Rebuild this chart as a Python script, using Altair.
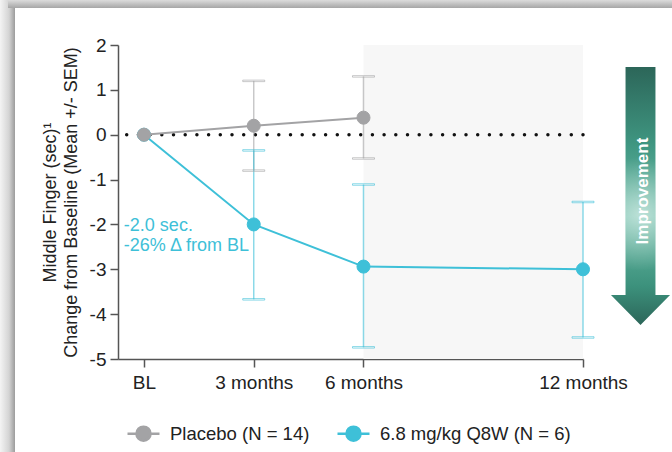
import altair as alt
import pandas as pd

FONT = "Liberation Sans"
PLACEBO = "Placebo (N = 14)"
DRUG = "6.8 mg/kg Q8W (N = 6)"
GREY = "#a3a3a5"
CYAN = "#3ec0d8"

# Mean change from baseline (sec) by visit month
placebo_months = [0, 3, 6]
placebo_mean = [0.0, 0.2, 0.38]
placebo_err_months = [3, 6]
placebo_err_hi = [1.2, 1.3]
placebo_err_lo = [-0.8, -0.53]

drug_months = [0, 3, 6, 12]
drug_mean = [0.0, -2.0, -2.94, -3.0]
drug_err_months = [3, 6, 12]
drug_err_hi = [-0.35, -1.11, -1.5]
drug_err_lo = [-3.67, -4.74, -4.52]

tick_months = [0, 3, 6, 12]
tick_labels = ["BL", "3 months", "6 months", "12 months"]
y_ticks = [-5, -4, -3, -2, -1, 0, 1, 2]

note_lines = ["-2.0 sec.", "-26% \u0394 from BL"]
note_y = [-2.04, -2.48]
note_x = -0.55

shade_from = [6]
shade_to = [12]

W, H = 465, 314
PAD = {"left": 118, "top": 45, "right": 89, "bottom": 93}

# ---- tables ----
means = pd.concat([
    pd.DataFrame({"month": drug_months, "value": drug_mean, "series": DRUG}),
    pd.DataFrame({"month": placebo_months, "value": placebo_mean, "series": PLACEBO}),
], ignore_index=True)

errs = pd.concat([
    pd.DataFrame({"month": placebo_err_months, "hi": placebo_err_hi,
                  "lo": placebo_err_lo, "series": PLACEBO}),
    pd.DataFrame({"month": drug_err_months, "hi": drug_err_hi,
                  "lo": drug_err_lo, "series": DRUG}),
], ignore_index=True)

caps = pd.concat([
    errs[["month", "series"]].assign(value=errs["hi"]),
    errs[["month", "series"]].assign(value=errs["lo"]),
], ignore_index=True)

notes = pd.DataFrame({"month": [note_x] * len(note_lines), "value": note_y,
                      "text": note_lines})
shade = pd.DataFrame({"x0": shade_from, "x1": shade_to})
one = pd.DataFrame({"k": [0]})

# ---- scales / axes ----
label_expr = " : ".join(
    f"datum.value == {m} ? '{t}'" for m, t in zip(tick_months, tick_labels)
) + " : ''"

x_scale = alt.Scale(domain=[-0.71, 12], nice=False, zero=False)
y_scale = alt.Scale(domain=[-5, 2], nice=False, zero=False)

x_enc = alt.X("month:Q", scale=x_scale, title=None,
              axis=alt.Axis(values=tick_months, labelExpr=label_expr,
                            labelPadding=6, labelFlush=False))
y_enc = alt.Y("value:Q", scale=y_scale,
              title=["Middle Finger (sec)\u00b9",
                     "Change from Baseline (Mean +/-  SEM)"],
              axis=alt.Axis(values=y_ticks, labelExpr="'' + datum.value",
                            labelPadding=4, titlePadding=9, labelFlush=False))

legend_shape = ("M-1,0L1,0M-0.44,0A0.44,0.44,0,1,0,0.44,0"
                "A0.44,0.44,0,1,0,-0.44,0Z")
series_scale = alt.Scale(domain=[PLACEBO, DRUG], range=[GREY, CYAN])
series_legend = alt.Legend(
    title=None, orient="none", legendX=8, legendY=371,
    direction="horizontal", symbolType=legend_shape, symbolSize=1024,
    symbolStrokeWidth=2.5, symbolOpacity=1, labelFont=FONT, labelFontSize=18.5,
    labelColor="#222", labelOffset=9, columnPadding=22, padding=0,
    labelLimit=400,
)
stroke_enc = alt.Stroke("series:N", scale=series_scale, legend=series_legend)
fill_enc = alt.Fill("series:N", scale=series_scale, legend=series_legend)

# ---- decorative frame shadow ----
frame_left = alt.Chart(one).mark_rect(
    fill=alt.Gradient(gradient="linear", x1=0, x2=1, y1=0, y2=0,
                      stops=[alt.GradientStop(offset=0, color="#f4f4f4"),
                             alt.GradientStop(offset=0.6, color="#d4d4d4"),
                             alt.GradientStop(offset=1, color="#9c9c9c")])
).encode(x=alt.value(-118), x2=alt.value(-103),
         y=alt.value(-45), y2=alt.value(H + 93))

frame_top = alt.Chart(one).mark_rect(
    fill=alt.Gradient(gradient="linear", x1=0, x2=0, y1=0, y2=1,
                      stops=[alt.GradientStop(offset=0, color="#dcdcdc"),
                             alt.GradientStop(offset=1, color="#a6a6a6")])
).encode(x=alt.value(-110), x2=alt.value(W + 89),
         y=alt.value(-45), y2=alt.value(-37))

# ---- plot content ----
shade_layer = alt.Chart(shade).mark_rect(color="#f7f7f7").encode(
    x=alt.X("x0:Q", scale=x_scale), x2="x1:Q",
    y=alt.datum(-5, scale=y_scale), y2=alt.datum(2))

zero_line = alt.Chart(one).mark_rule(
    color="#111", strokeWidth=3.5, strokeCap="round", strokeDash=[0, 11.7]
).encode(y=alt.datum(0))

err_rules = alt.Chart(errs).mark_rule(strokeWidth=1.5, opacity=0.6).encode(
    x=x_enc, y=alt.Y("hi:Q", scale=y_scale), y2="lo:Q", stroke=stroke_enc)

err_caps = alt.Chart(caps).mark_tick(
    orient="horizontal", size=22, thickness=1.5, opacity=0.6, filled=False
).encode(x=x_enc, y=y_enc, stroke=stroke_enc)

lines = alt.Chart(means).mark_line(strokeWidth=2).encode(
    x=x_enc, y=y_enc, stroke=stroke_enc, detail="series:N",
    order=alt.Order("month:Q"))

points = alt.Chart(means).mark_point(
    filled=True, size=170, opacity=1, strokeWidth=1
).encode(x=x_enc, y=y_enc, fill=fill_enc, stroke=stroke_enc)

note_layer = alt.Chart(notes).mark_text(
    align="left", baseline="middle", font=FONT, fontSize=18, color=CYAN
).encode(x=alt.X("month:Q", scale=x_scale),
         y=alt.Y("value:Q", scale=y_scale), text="text:N")

# ---- "Improvement" arrow ----
arrow_path = ("M-0.116,-1L0.116,-1L0.116,0.767L0.229,0.767L0,1"
              "L-0.229,0.767L-0.116,0.767Z")
arrow = alt.Chart(one).mark_point(
    shape=arrow_path, size=258 ** 2, filled=True, opacity=1, strokeWidth=0,
    fill=alt.Gradient(gradient="linear", x1=0, x2=0, y1=0, y2=1,
                      stops=[alt.GradientStop(offset=0, color="#2c6659"),
                             alt.GradientStop(offset=0.3, color="#3f9681"),
                             alt.GradientStop(offset=0.58, color="#6cbda8"),
                             alt.GradientStop(offset=0.85, color="#3c917c"),
                             alt.GradientStop(offset=1, color="#2c6659")])
).encode(x=alt.value(522.5), y=alt.value(151))

arrow_glow = alt.Chart(one).mark_point(
    shape=arrow_path, size=258 ** 2, filled=True, opacity=1, strokeWidth=0,
    fill=alt.Gradient(gradient="radial", x1=0.5, y1=0.57, r1=0,
                      x2=0.5, y2=0.57, r2=0.22,
                      stops=[alt.GradientStop(offset=0, color="rgba(255,255,255,0.55)"),
                             alt.GradientStop(offset=1, color="rgba(255,255,255,0)")])
).encode(x=alt.value(522.5), y=alt.value(151))

arrow_text = alt.Chart(pd.DataFrame({"t": ["Improvement"]})).mark_text(
    angle=270, align="center", baseline="middle", font=FONT, fontSize=17,
    fontWeight="bold", color="white"
).encode(x=alt.value(525), y=alt.value(146), text="t:N")

chart = alt.layer(
    frame_left, frame_top, shade_layer, zero_line, err_rules, err_caps,
    lines, points, note_layer, arrow, arrow_glow, arrow_text
).properties(
    width=W, height=H, padding=PAD,
    autosize=alt.AutoSizeParams(type="none"), background="white"
).configure_view(stroke=None).configure_axis(
    grid=False, domainColor="#555", domainWidth=1.5, tickColor="#555",
    tickWidth=1.5, tickSize=8, labelFont=FONT, labelFontSize=19,
    labelColor="#222", titleFont=FONT, titleFontSize=18,
    titleFontWeight="normal", titleColor="#222", titleLineHeight=21
)

chart.save("out.html", embed_options={"renderer": "svg", "actions": False})
